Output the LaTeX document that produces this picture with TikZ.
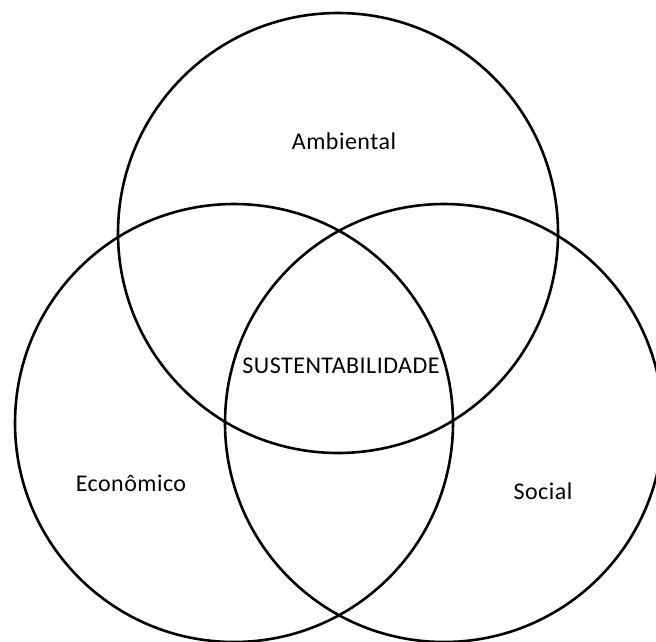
\documentclass[tikz,border=0pt]{standalone}
\usepackage{fontspec}
\setmainfont{Carlito}[LetterSpace=2]
\begin{document}
\begin{tikzpicture}[x=1pt,y=-1pt,
  ring/.style={draw=black,line width=2.6pt},
  lbl/.style={font=\fontsize{24}{28}\selectfont,text=black,inner sep=0pt}]
\useasboundingbox (0,0) rectangle (656,641);
\clip (0,0) rectangle (656,641);
\fill[white] (0,0) rectangle (656,641);
\draw[ring] (338,233) circle[radius=220];
\draw[ring] (234,423) circle[radius=219];
\draw[ring] (444,423) circle[radius=219];
\node[lbl] (amb) at (344,141) {Ambiental};
\node[lbl] (sus) at (341,366) {SUSTENTABILIDADE};
\node[lbl] (eco) at (131,483) {Econômico};
\node[lbl] (soc) at (543,491) {Social};
\end{tikzpicture}
\end{document}
